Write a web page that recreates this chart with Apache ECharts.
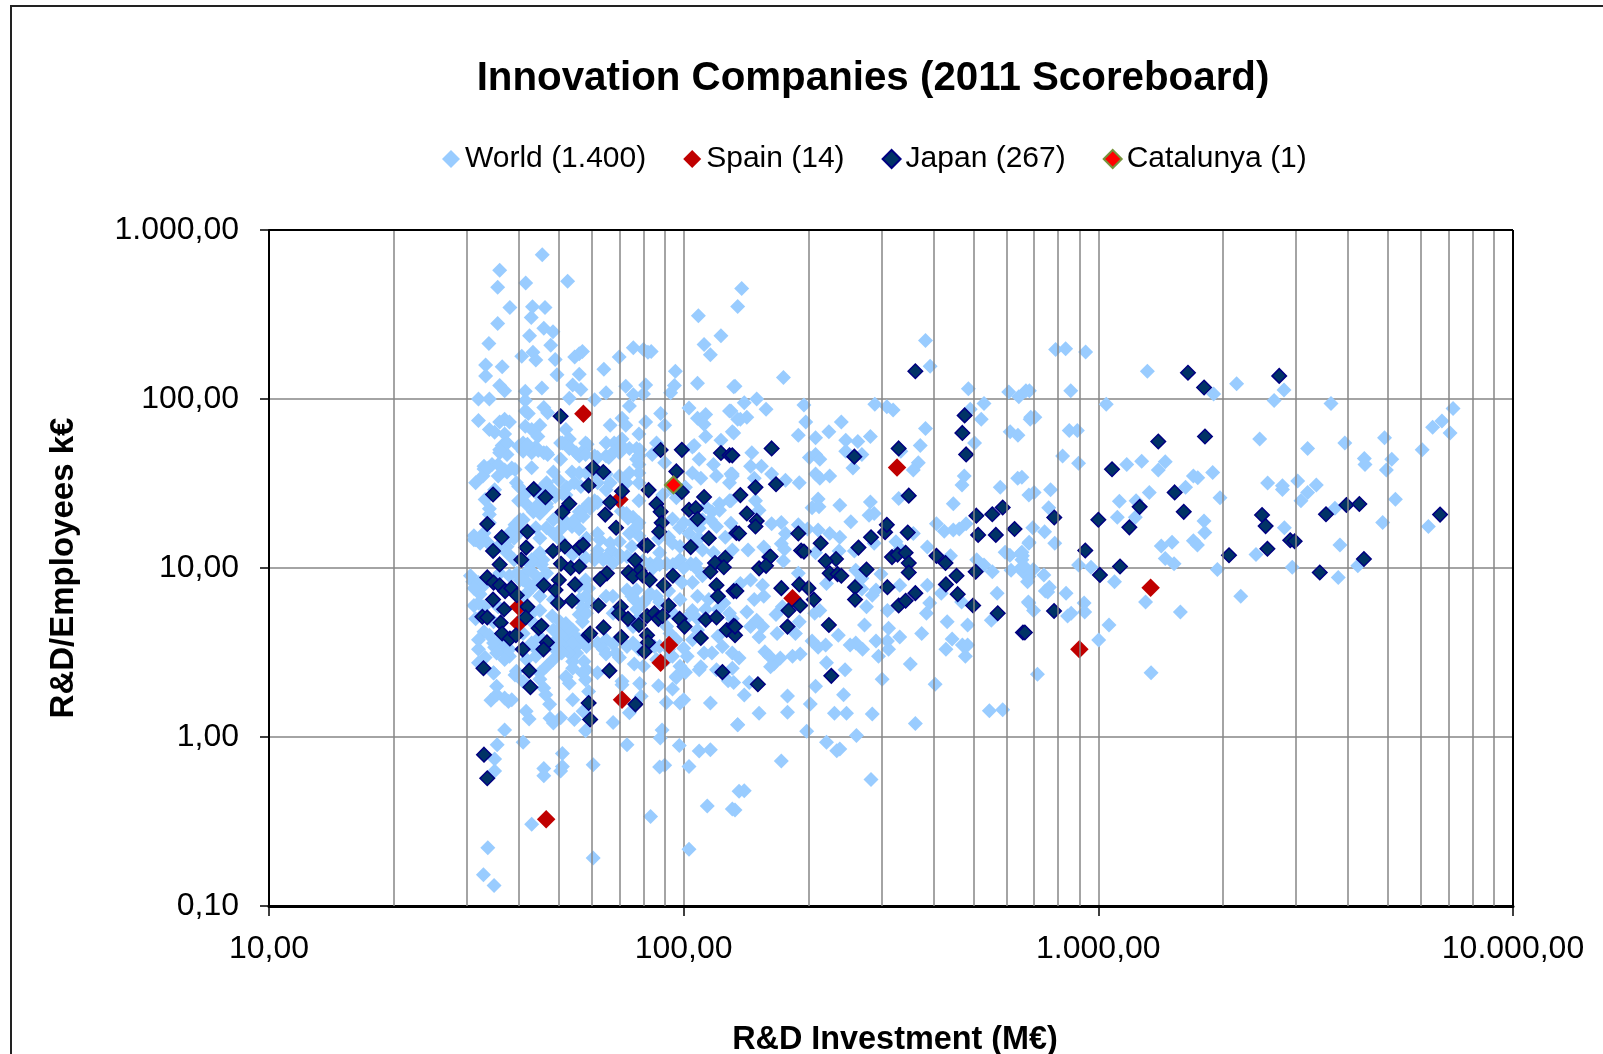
<!DOCTYPE html>
<html><head><meta charset="utf-8">
<style>html,body{margin:0;padding:0;background:#fff}#c{width:1603px;height:1054px}</style>
<script src="https://cdn.jsdelivr.net/npm/echarts@6/dist/echarts.min.js"></script>
</head><body><div id="c"></div>
<script>
const titleText = 'Innovation Companies (2011 Scoreboard)';
const xAxisName = 'R&D Investment (M€)';
const yAxisName = 'R&D/Employees k€';
const seriesNames = ['World (1.400)', 'Spain (14)', 'Japan (267)', 'Catalunya (1)'];
const minorXTicks = [20,30,40,50,60,70,80,90,200,300,400,500,600,700,800,900,2000,3000,4000,5000,6000,7000,8000,9000];

const worldTop = [[45.6,714],[36,577],[35.6,458],[41.6,486],[52.5,497],[38.1,348],[43.2,352],[46.3,348],[42.9,304],[35.6,280],[46,262],[48.4,250],[42.5,237],[33.9,213],[47.8,208],[43.3,189],[40.7,179],[44,170],[49,171],[54.6,177],[56,185],[57,191],[33.3,159],[36.5,155],[33.3,137],[49.5,139],[56,140],[64.2,150],[69.9,177],[75.6,201],[80,196],[82,189],[83.5,191],[95.5,146],[95,120],[93,109],[81,121],[72.5,119],[75.6,106],[80,107],[74,91],[36,120],[37,112],[45.5,116],[41.5,111],[54,121],[56.5,114],[53,101],[65,109],[61,99],[32,100],[34,100],[32,74.5],[34,66],[41.5,98],[41.5,85],[42.2,82],[46,89],[47,83],[45,70],[41.5,69],[43,66],[44.5,60],[37,76],[36,73],[38,73],[35,63.5],[37,62],[37.5,55],[36.5,53],[41,55],[40.5,52],[44,52],[36,48],[37.5,47],[43,48],[46,48],[52,66],[52,55],
[108.5,311],[138,451],[135,353],[123,237],[112,210],[116,183],[108,124],[133,119],[103,88.5],[108,77],[113,81],[112,71],[113,60],[129,85],[135,76],[131,64],[123,57],[106,53],[88,82],[90,70],[81,73],[78,62],[71,77],[72.5,70],[66.5,70],[65,55],[68,55],[71,58],[77,51],[74,51],[58,55],[58,51],[53,58],[50.5,55],[53,52],[46.7,48],[86,55],[84,47],[70,48],[65,46],[78,46],[61,46],[56,46],[50.5,44],[41,49]];

const worldDense = [[37.5,55],[36,50],[40,52.6],[42,54],[44.6,49.5],[47,47],[51,55],[53,51],[55,48],[58.5,54],[58,47],[62,45],[66,45],[68,49],[71,52.6],[77,44],[78.3,50],[90,42],[105,52],[109,44],[118,41],[131,35],
[33,40],[34.5,41],[31.5,32],[32.8,35],[35.7,35],[37.5,37],[39.2,38.3],[43,39.2],[48.5,37],[53.8,37],[39.5,32],[46.7,32],[50,33],[52.2,30],[56,36.5],[61,36.5],[65,29],[78,36.5],[78,32],[105,36.5],[110,34],[120,35],[131,36],
[33.2,25.4],[34,22.4],[35,29],[40,25],[45,26.5],[46.7,24],[49,26.5],[52,27],[57,22],[61,25],[59,24],[72.8,32],[78,25],[89,27],[94,29],[96,26],[101,30],[113,23],[122,24],[129,25],[129,32],
[34,20.7],[41,19.3],[43.4,21.5],[45,21],[46.7,23],[50,20],[56,21.5],[55,19.3],[72.8,21],[75.5,20],[78,18.5],[94,19.5],[97.8,17.3],[92,15.2],[100,18.5],[117,21.5],[116,19.3],[39.5,17.6],[40.3,16.4],[39,15],[31.2,14.7],[32.3,14],[37.5,13.4],[44,17.3],[46.7,17.3],[48.5,16],[50.6,17],[53.8,17.6],[56,17],[45,15],[50.3,14.7],[58.3,15],[62,16],[74,16],[78,15.5],[109,17.2],[120,17.6],[126,15.2],[108,14.7],[77,17.3],[122,22],
[62,12.7],[67,12.7],[61,11.2],[65,11.5],[73,11.7],[83,10.6],[86,10.6],[91,10.6],[98,11.2],[104,10.6],[107,10.6],[111,12.8],[44.6,11.7],[45.4,10.5],[42.7,10.5],[41.5,9.3],[54,12],[37.5,14.7],[70,12],[58,11.5],[118,12.3],[131,12.8],[31,8.3],[32,7.6],
[40.3,8.5],[42.7,7.8],[45,6.8],[41.8,8.3],[58,8.5],[59,7.6],[58,6.8],[56,7.8],[77,7.4],[75,6.8],[73,7.4],[83,7.1],[80,6.2],[99,8.2],[98,6.5],[105,8.2],[108,6.8],[111,9],[129,5.4],[125,6.2],[32.3,7],[33,5.9],[31.2,6],[36,9.3],[38,9],[65,6.8],[67.5,6.8],[48.5,6.5],[45,5.6],
[31.5,5],[33,4.2],[43,5.4],[43.5,4.7],[48.2,5.2],[56,5.3],[52,4.7],[54,4.3],[51.5,4.3],[50,4.1],[50.5,3.8],[52.2,3.76],[54,3.6],[56,3.76],[52,3.3],[48.5,3.6],[50,3.14],[62,3.6],[65,3.76],[67.6,3.55],[64,3.3],[75.5,4.5],[78,5.1],[92.7,4.1],[96,3.76],[105,3.76],[121,3.95],[108,4.3],[131,5],[100,3.35],[85,3.43],[91,4.5],
[32,3.3],[35,3.4],[37,3.14],[38,3],[35.8,3.7],[38,3.76],[43,3.6],[48.5,2.87],[54,2.8],[57.5,2.8],[54,2.55],[58.3,2.5],[65,3.1],[70,2.95],[76,2.7],[91,2.87],[98,2.62],[102,3],[110,2.6],[131,2.55],[32,2.75],[34.8,2.4],[39.5,2.45],[52,2.27],[62,2.4],[96,2.25],[120,2.5]];

const worldFill = [[48.5,19.3],[50.3,20.7],[52.2,18.5],[54.2,18.9],[57.2,20.2],[59.5,22.6],[62,24.4],[70.7,21.7],[73.4,19.7],[77,17.6],
[61.8,12],[64,11.2],[67.6,10.7],[70.7,11.7],[79.8,11],[84.4,10],[87.5,10.5],[94.2,10.5],[100,10],[107,10],
[39.6,9.3],[41,8.5],[43.4,9.3],[45,8.5],[43.4,7.8],[41.8,7.1],[40.6,6.2],[46.7,9.3],[44.2,11.7],[45.8,11.2],[43,11.2],[45,12.3],
[50.3,4.8],[51,4.5],[53,4.1],[54.7,3.95],[50.3,4],[48.5,4.3],[53.7,3.6],[51,3.43],[55,3.43],[57,3.76],[55.2,3.14],[53,3.14],[50,3.6],[50.8,3.14],[58.3,3.43],[49,3.3],
[34,18.5],[33,16.1],[31.5,14.7],[33.8,14],[35.7,13.4],[37.5,12.3],[39,11.2],[31.2,15.5],[32.7,14.7],[38,16.1],[39.2,18],[40.3,19.3],
[33,38.5],[33.8,39],[35.7,41],[37,38],[38.5,39],[40,30.4],[41.5,27.3],[41.8,23.8],[44,23],[45,29],[48,29],[51,27.5],[54.5,32],[56.5,30.4],[62,32],[66.5,32],[70,35],[74,36.5],[78,41],[65,36],[58.3,36.5],
[105,18.5],[111,19.3],[103,16],[109,15],[94,14],[98,13.4],[87.5,12.3],[62.8,14.7],[66.5,14],[70,14.3],[75,13.4],[87,14.9],
[32,8.2],[32.8,7.8],[30.6,9],[31.2,7.6],[32,6.2],[33,5.4],[35.7,5.9],[34.8,4.8],[34,4],[32,3.76],[34.8,3.6],[37,3.43],[38,3.3],[35.4,3.14],[37,2.87],[33.2,2.95],
[60,6.2],[57,5.8],[56,6.5],[57,4.8],[58.3,5.4],[67.6,5.4],[76,6.5],[77,5.7],[81,6.5],[86,6.8],[87.5,6.3],[92,7.3],[94.2,5.4],[105,5.6],[102,5.1],[115,6.5],[113,5.7],[108,5],[121,5.7],
[75.5,3.6],[78,3.3],[73,3.43],[68.7,3.14],[87.5,3.43],[92,3.3],[94,3],[80,2.62],[86,2.87],[112,3.14],[117,3.14],[124,3.43],[131,3.14],[45,3.9],[43.4,3.43],[41,4.1],[44,3],[41.8,2.87],[46.7,2.62],[45,2.4]];

const worldLow = [[33.7,.221],[32.9,.153],[34.9,.132],[43,.305],[60.5,.192],[103,.217],[83.2,.339],[114,.39],[131,.375],[136,.477],[73,.9],[97.6,.89],[109,.826],[116,.84],[103,.67],[87.5,.665],[90,.68],[87.8,.985],[88.7,1.1],[60.5,.686],[51,.8],[51,.67],[50.5,.63],[46,.65],[46,.59],[41,.93],[35.5,.9],[35,.74],[35,.63],[37,1.1],[58,1.09],[67.6,1.22],[74,1.39],[79,1.74],[90.8,1.6],[98,1.59],[100,1.66],[116,1.59],[135,1.18],[128,2.15],[87,2.01],[94,1.92],[78.3,2.07],[71,2.14],[71,2.04],[96,2.29],[101,2.42],[109,2.5],[59,1.86],[58,2.18],[57,2.4],[53,2.08],[52,2.26],[54,1.66],[47.5,1.56],[47.6,1.29],[48.5,1.21],[50.5,1.3],[54.5,1.27],[57.2,1.42],[41.7,1.42],[42.4,1.28],[34.3,1.65],[35.4,2],[35.4,1.78],[37,1.7],[37.8,1.62],[38.5,1.66],[34.8,2.39],[39.2,2.33],[41,2.13],[45,2.2],[46,1.95],[46.5,1.78]];

const worldMid = [[383,222],[393,156],[174,134],[132,118],[140,95],[150,100],[158,87],[195,92],[130,85],[137,76],[142,78],[197,73],[189,61],[132,63],[208,59],[224,64],[240,73],[246,57],[263,56],[282,60],[246,49],[269,47],[289,93],[309,90],[320,86],[383,67],[372,53],[334,49],[368,42],[358,38],[486,115],[491,87],[530,94],[608,110],[643,103],[682,112],[522,76],[613,64],[640,61],[503,55],[685,76],[475,35],[469,31],[580,30],[639,34],[447,24],[680,27],[146,48],[201,45],[208,47],[213,44],[256,39],[145,40],[154,40],[163,36],[148,34],[130,36],[176,33],[190,32],[208,36],[213,34],[225,35],[330,25.8],[282,24.6],[238,23.5],[211,25.6],[204,22.7],[212,23],[280,20.5],[288,21],[253,18.8],[407,18.3],[425,16.5],[447,16.8],[462,17],[480,18.3],[172,18.6],[163,18.3],[152,22],[149,25],[130,25],[130,18.4],[143,12.8],[156,13.3],[172,13.9],[176,16],[189,18],[199,17],[211,16.8],[225,16],[238,15.2],[175,12.9],[208,12.3],[237,12.6],[258,12.6],[288,14],[325,14.3],[358,16],[387,13.3],[440,11.8],[596,12.4],[650,12.2],[680,14],[333,13],
[612,11.9],[656,11.8],[509,11.2],[530,10.4],[555,9.5],[616,9.7],[650,10],[680,8.9],[570,7.1],[680,6.2],[552,4.9],[484,4.6],[432,4.8],[392,6.2],[385,5.4],[375,4.1],[332,3.9],[312,4.4],[310,3.7],[312,3.3],[291,3.7],[295,3],[270,3.3],[260,3.6],[252,3.5],[273,4.6],[276,5.9],[310,5.6],[285,6.9],[291,7.4],[332,7.9],[387,7.9],[418,7.1],[468,6.3],[429,3.3],[444,3.8],[470,3.5],[484,3.5],[478,3],[352,2.7],[404,2.05],[301,2.2],[245,2.5],[221,2.75],[236,4],[220,3.5],[211,3.4],[204,3.7],[208,2],[243,1.78],[231,1.38],[247,1.38],[285,1.37],[362,1.2],[546,1.43],[588,1.45],[202,1.57],[178,1.75],[178,1.4],[152,1.38],[135,1.18],[140,1.77],[144,2.1],[132,2.1],[198,1.08],[261,1.02],[221,.93],[238,.85],[234,.83],[172,.72],[283,.56],[140,.48],[133,.37],[136,2.93],[157,3.2],[165,2.7],[171,2.93],[183,3],[191,3.1],[168,4.1],[152,3.9],[145,4.5],[155,4.5],[150,4.9],[142,5.5],[167,5.3],[173,5.9],[190,4.8],[186,4.1],[148,6.5],[156,6.8],[145,8.5],[137,8.1],[155,7.9],[174,11],[189,9.3],[269,8.7],[207,5.4],[213,5.6],[269,7.5],[260,9.7],[299,9.2],[221,8.1],[161,3],[162,2.6]];

const worldHigh = [[789,196],[834,198],[932,190],[1313,146],[669,112],[858,112],[1045,93],[2155,123],[1897,107],[2654,98],[2804,113],[3640,94],[7170,88],[6740,74],[6400,68],[7050,63],[687,78],[703,78],[2450,58],[3197,51],[3930,55],[4900,59],[6040,50],[4380,44.5],[4397,41],[5100,44],[4950,38],[851,65],[890,65],[820,46],[896,41.6],[654,34.4],[767,29],[700,28],[759,22.7],[695,17.3],[742,16.4],[681,14.2],[785,14],[654,12.4],[1171,40.9],[1272,42.8],[1395,38],[1450,42.6],[1695,35],[1737,34.2],[1887,36.7],[1623,30],[1327,28],[1124,24.8],[1233,25],[1111,20],[1228,20],[1965,26],[1798,19],[1806,16.2],[2560,31.8],[2780,30.7],[2780,29.1],[3025,32.7],[3355,31],[3197,28],[3080,25],[3720,22.6],[5205,25.5],[4850,18.6],[6250,17.6],[2810,17.3],[3825,13.7],[2400,12],[2935,10.1],[4225,10.3],[3790,8.8],[1937,9.8],[2205,6.8],[1418,13.5],[1506,14.2],[1695,14.5],[1734,13.7],[1450,11.4],[1523,10.6],[896,10.4],[960,10.1],[739,9.1],[697,9.8],[762,7.7],[745,7.3],[755,7.2],[836,7.1],[678,6.3],[698,5.6],[654,11.2],[924,6.2],[927,5.5],[860,5.4],[843,5.2],[1094,8.3],[1300,6.3],[1577,5.5],[1061,4.6],[1002,3.75],[713,2.35],[1340,2.4],[660,9.4],[675,8.3],[660,10.3]];

const spainValues = [[46.6,.326],[71,1.66],[92.2,3.5],[88,2.75],[40,5.9],[40,4.7],[70,25.4],[57.3,81.9],[327,39.3],[183,6.62],[1337,7.65],[900,3.3]];

const japanValues = [[88,49.9],[99,50],[123,47.9],[129,46.5],[60.5,39.2],[64,37],[96,37.3],[59,30.8],[43.5,29.3],[34.7,27.2],[46.4,26.2],[71,28.5],[82.3,28.9],[99,28.2],[112,26.3],[53,24],[51,21.4],[66.5,24.5],[86,23.9],[103,22.1],[107,22.6],[88,21.5],[64.7,20.7],[108,19.5],[33.6,18.2],[88.5,18.5],[68.7,17.3],[42,16.4],[87.3,16.4],[36.4,15.2],[115,15],[134,16.1],[41.7,13.2],[80.5,13.6],[81.8,13.6],[104,13.3],[56,13.2],[57.2,13.7],[51.7,13.4],[48.4,12.6],[34.7,12.6],[40.6,11.2],[36,10.5],[50.6,10.6],[53.4,10],[56,10.2],[76.4,11.1],[119,10.7],[126,11.5],[116,9.5],[125,10.1],[73.6,9.4],[78.3,9.6],[75.5,8.9],[79.8,9],[82.8,8.5],[65.3,9.3],[62.9,8.6],[94.2,9],[89.5,7.9],[33.6,8.8],[34.8,8.2],[36,7.9],[37.1,7.3],[38.4,7.6],[39.6,6.9],[46,7.9],[50,8.5],[54.7,8],[49.1,7.4],[120,7.9],[121,6.8],[132,7.3],[49.8,6.2],[53.8,6.4],[34.7,6.5],[36.9,5.7],[42,5.9],[62.3,6],[70.5,5.9],[69.8,5.4],[73.4,5],[92,6],[81.6,5.2],[85,5.4],[86.9,5],[89,5.2],[97.8,5],[100.5,4.5],[78,4.6],[113,4.95],[120,5.1],[32.7,5.15],[33.6,5.1],[41.6,5.1],[36.2,4.75],[44.7,4.4],[45.4,4.55],[64.1,4.45],[59,4],[59.5,4.1],[127,4.3],[132,4.55],[133,4],[36.5,4.1],[38.1,3.83],[39.4,4],[70.7,3.9],[110,3.85],[81.6,4],[82,3.63],[80.5,3.2],[46.8,3.63],[45.9,3.3],[40.9,3.3],[32.9,2.55],[42.4,2.47],[66.2,2.47],[124,2.42],[50.5,79],[42.7,1.97],[59,1.59],[76.5,1.56],[59.5,1.27],[33,.786],[33.6,.57],
[362,146],[476,80],[470,63],[480,47],[330,51],[258,45.6],[163,51],[131,46.4],[167,31.3],[149,30],[137,27],[349,26.8],[142,21],[150,19],[149,17.6],[136,16],[189,16],[214,14],[192,12.7],[161,11.6],[233,11.3],[264,13.2],[283,15.2],[306,16.3],[309,18],[347,16.2],[508,20.4],[555,20.8],[588,22.8],[513,15.7],[566,15.7],[628,17],[318,11.6],[328,12],[343,12.3],[407,11.8],
[162,11.7],[152,9.95],[158,10.3],[195,12.5],[220,11],[225,9.3],[235,9.2],[240,9],[276,9.8],[349,10.7],[349,9.4],[428,10.7],[455,9],[506,9.5],[429,8],[458,7],[499,6],[572,5.4],[658,4.15],[310,7.7],[259,7.7],[259,6.5],[330,6],[343,6.4],[362,7.1],[172,7.6],[190,8],[200,7.6],[206,6.5],[134,7.3],[179,5.6],[191,6],[178,4.5],[224,4.6],[133,4.5],[227,2.3],[151,2.05],
[1645,143],[1799,117],[2730,137],[1808,60],[1395,56],[1079,38.4],[1528,28],[1258,23],[1607,21.5],[783,19.9],[1000,19.3],[1188,17.4],[2482,20.6],[2532,17.7],[2903,14.6],[2975,14.4],[2557,13],[2066,11.9],[930,12.7],[1128,10.2],[1009,9.1],[782,5.57],[665,4.15],[3540,20.8],[3965,23.6],[4260,23.9],[4370,11.3],[3420,9.4],[6670,20.7]];

const catalunyaValues = [[94.5,31]];
const worldValues = worldTop.concat(worldDense, worldFill, worldLow, worldMid, worldHigh);

const fmt = v => {
  const s = Number(v).toFixed(2).split('.');
  return s[0].replace(/\B(?=(\d{3})+$)/g, '.') + ',' + s[1];
};
const grey = '#868686';
const font = '"Liberation Sans", Arial, sans-serif';
const chart = echarts.init(document.getElementById('c'), null, {renderer: 'canvas'});
chart.setOption({
  animation: false,
  backgroundColor: '#fff',
  textStyle: {fontFamily: font, color: '#000'},
  title: {text: titleText, left: 868, top: 54, textAlign: 'center',
    textStyle: {fontFamily: font, fontSize: 40.3, fontWeight: 'bold', color: '#000'}},
  legend: {left: 437, top: 139, itemWidth: 18, itemHeight: 18, itemGap: 37, data: seriesNames,
    textStyle: {fontSize: 30, color: '#000', fontFamily: font}},
  grid: {left: 269, top: 230, width: 1244, height: 676, containLabel: false, outerBoundsMode: 'none'},
  xAxis: {type: 'log', logBase: 10, min: 10, max: 10000,
    name: xAxisName, nameLocation: 'middle', nameGap: 118,
    nameTextStyle: {fontSize: 32.4, fontWeight: 'bold', color: '#000', padding: [0,0,0,8]},
    axisLine: {show: true, onZero: false, lineStyle: {color: '#000', width: 3}},
    axisTick: {show: true, length: 10, lineStyle: {color: '#000', width: 1.5}},
    axisLabel: {fontSize: 32, color: '#000', margin: 27, formatter: fmt, showMinLabel: true, showMaxLabel: true, hideOverlap: false},
    splitLine: {show: true, lineStyle: {color: grey, width: 1.5}},
    minorTick: {show: false}, minorSplitLine: {show: false}},
  yAxis: {type: 'log', logBase: 10, min: 0.1, max: 1000,
    name: yAxisName, nameLocation: 'middle', nameGap: 189,
    nameTextStyle: {fontSize: 33, fontWeight: 'bold', color: '#000'},
    axisLine: {show: true, onZero: false, lineStyle: {color: '#000', width: 2}},
    axisTick: {show: true, length: 9, lineStyle: {color: '#000', width: 1.5}},
    axisLabel: {fontSize: 32, color: '#000', margin: 30, padding: [6,0,0,0], formatter: fmt, showMinLabel: true, showMaxLabel: true, hideOverlap: false},
    splitLine: {show: true, lineStyle: {color: grey, width: 1.5}},
    minorTick: {show: false}, minorSplitLine: {show: false}},
  graphic: [{type: 'polyline', silent: true, z: 0,
    shape: {points: [[11, 1054], [11, 6], [1603, 6]]},
    style: {stroke: '#222', lineWidth: 2, fill: null}}],
  series: [
    {name: 'minor', type: 'scatter', data: [], z: 1, silent: true,
      markLine: {silent: true, symbol: 'none', animation: false, label: {show: false},
        lineStyle: {color: grey, width: 1.5, type: 'solid'},
        data: minorXTicks.map(v => ({xAxis: v})).concat([
          {xAxis: 10000, lineStyle: {color: '#000', width: 2, type: 'solid'}},
          {yAxis: 1000, lineStyle: {color: '#000', width: 2, type: 'solid'}}])}},
    {name: seriesNames[0], type: 'scatter', data: worldValues, symbol: 'diamond', symbolSize: 15, z: 2,
      itemStyle: {color: '#99CCFF', opacity: 1}},
    {name: seriesNames[1], type: 'scatter', data: spainValues, symbol: 'diamond', symbolSize: 18.5, z: 3,
      itemStyle: {color: '#C00000', opacity: 1}},
    {name: seriesNames[2], type: 'scatter', data: japanValues, symbol: 'diamond', symbolSize: 14.5, z: 4,
      itemStyle: {color: '#003366', borderColor: '#000080', borderWidth: 1.5, opacity: 1}},
    {name: seriesNames[3], type: 'scatter', data: catalunyaValues, symbol: 'diamond', symbolSize: 17, z: 5,
      itemStyle: {color: '#FF0000', borderColor: '#77933C', borderWidth: 2, opacity: 1}}
  ]
});
</script></body></html>
